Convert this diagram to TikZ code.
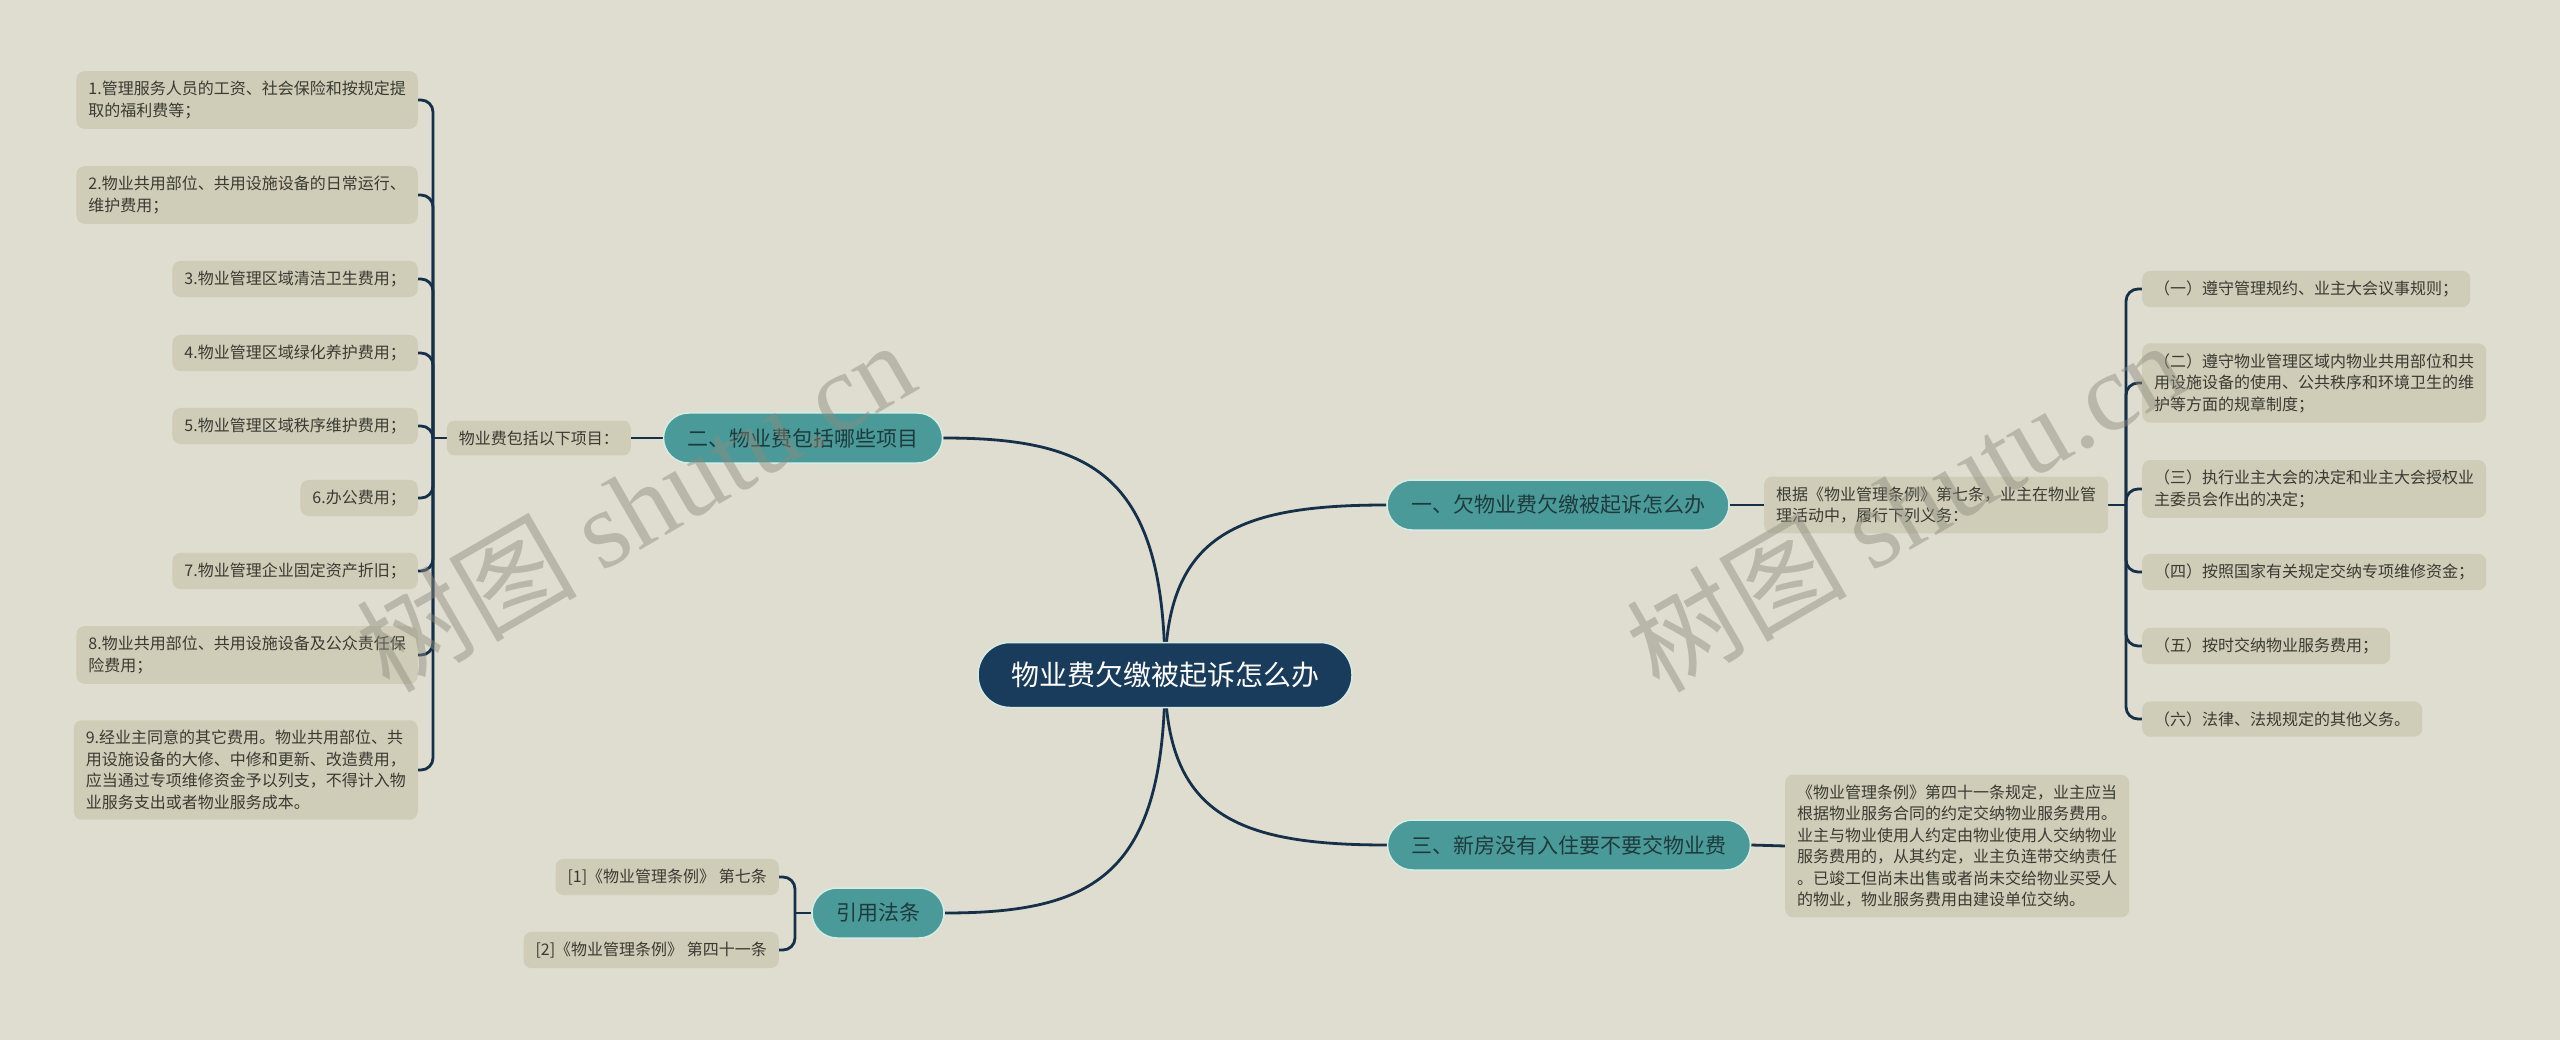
\documentclass[tikz,border=0pt]{standalone}
\usepackage{fontspec}
\setmainfont{Noto Sans CJK SC}
\newfontfamily\wmfont{Liberation Serif}
\usetikzlibrary{backgrounds}

\definecolor{paper}{HTML}{DFDDD0}
\definecolor{leaffill}{HTML}{CFCCB7}
\definecolor{leaftext}{HTML}{3A3A33}
\definecolor{branchteal}{HTML}{4B9A9A}
\definecolor{branchedge}{HTML}{D5ECE4}
\definecolor{branchtext}{HTML}{1E3A3C}
\definecolor{topicblue}{HTML}{1A3C5C}
\definecolor{linkblue}{HTML}{16304A}
\definecolor{wmgray}{HTML}{8C8A7C}

\begin{document}
\begin{tikzpicture}[x=1pt,y=-1pt,
 leaf/.style={fill=leaffill,rounded corners=8,inner xsep=12,inner ysep=10,
  text=leaftext,align=left,font=\fontsize{16}{21.5}\selectfont},
 branch/.style={fill=branchteal,draw=branchedge,line width=1.5,rounded corners=25,
  minimum height=50,inner xsep=24,text=branchtext,font=\fontsize{21}{25}\selectfont},
 topic/.style={fill=topicblue,draw=branchedge,line width=1.5,rounded corners=32,
  minimum height=65,inner xsep=33,text=white,font=\fontsize{28}{32}\selectfont},
 link/.style={draw=linkblue,line width=2.8},
 forkline/.style={rounded corners=12,to path={|- (\tikztotarget)}},
 watermark/.style={text=wmgray,opacity=0.45,font=\fontsize{110}{110}\selectfont}]

\node [topic] (wyf) at (1165,675) {物业费欠缴被起诉怎么办};

\node [branch] (bao) at (803,438) {二、物业费包括哪些项目};
\node [branch] (qian) at (1558,505) {一、欠物业费欠缴被起诉怎么办};
\node [branch] (xin) at (1569,845) {三、新房没有入住要不要交物业费};
\node [branch] (yin) at (878,913) {引用法条};

\begin{scope}[every node/.append style={leaf,anchor=east}]
 \node (baox) at (631,438) {物业费包括以下项目：};
 \node (bao1) at (418,100) {1.管理服务人员的工资、社会保险和按规定提\\取的福利费等；};
 \node (bao2) at (418,195) {2.物业共用部位、共用设施设备的日常运行、\\维护费用；};
 \node (bao3) at (418,279) {3.物业管理区域清洁卫生费用；};
 \node (bao4) at (418,353) {4.物业管理区域绿化养护费用；};
 \node (bao5) at (418,426) {5.物业管理区域秩序维护费用；};
 \node (bao6) at (418,498) {6.办公费用；};
 \node (bao7) at (418,571) {7.物业管理企业固定资产折旧；};
 \node (bao8) at (418,655) {8.物业共用部位、共用设施设备及公众责任保\\险费用；};
 \node (bao9) at (418,770) {9.经业主同意的其它费用。物业共用部位、共\\用设施设备的大修、中修和更新、改造费用，\\应当通过专项维修资金予以列支，不得计入物\\业服务支出或者物业服务成本。};
 \node (yin1) at (779,877) {[1]《物业管理条例》 第七条};
 \node (yin2) at (779,950) {[2]《物业管理条例》 第四十一条};
\end{scope}

\begin{scope}[every node/.append style={leaf,anchor=west}]
 \node (qianx) at (1764,505) {根据《物业管理条例》第七条，业主在物业管\\理活动中，履行下列义务：};
 \node (qian1) at (2142,289) {（一）遵守管理规约、业主大会议事规则；};
 \node (qian2) at (2142,383) {（二）遵守物业管理区域内物业共用部位和共\\用设施设备的使用、公共秩序和环境卫生的维\\护等方面的规章制度；};
 \node (qian3) at (2142,489) {（三）执行业主大会的决定和业主大会授权业\\主委员会作出的决定；};
 \node (qian4) at (2142,572) {（四）按照国家有关规定交纳专项维修资金；};
 \node (qian5) at (2142,646) {（五）按时交纳物业服务费用；};
 \node (qian6) at (2142,719) {（六）法律、法规规定的其他义务。};
 \node (xinx) at (1785,846) {《物业管理条例》第四十一条规定，业主应当\\根据物业服务合同的约定交纳物业服务费用。\\业主与物业使用人约定由物业使用人交纳物业\\服务费用的，从其约定，业主负连带交纳责任\\。已竣工但尚未出售或者尚未交给物业买受人\\的物业，物业服务费用由建设单位交纳。};
\end{scope}

\coordinate (jbao) at (433,438);
\coordinate (jqian) at (2126,505);
\coordinate (jyin) at (795,913);

\begin{pgfonlayer}{background}
 \fill [paper] (0,0) rectangle (2560,1040);
 \draw [link] (wyf.center) .. controls +(0,-200) and +(150,0) .. (bao.east);
 \draw [link] (wyf.center) .. controls +(0,-140) and +(-150,0) .. (qian.west);
 \draw [link] (wyf.center) .. controls +(0,140) and +(-150,0) .. (xin.west);
 \draw [link] (wyf.center) .. controls +(0,200) and +(150,0) .. (yin.east);
 \draw [link] (bao.west) -- (baox.east);
 \draw [link] (qian.east) -- (qianx.west);
 \draw [link] (xin.east) -- (xinx.west);
 \draw [link] (baox.west) -- (jbao);
 \draw [link] (qianx.east) -- (jqian);
 \draw [link] (yin.west) -- (jyin);
 \draw [link] (jbao) edge [forkline] (bao1.east) edge [forkline] (bao2.east)
  edge [forkline] (bao3.east) edge [forkline] (bao4.east) edge [forkline] (bao5.east)
  edge [forkline] (bao6.east) edge [forkline] (bao7.east) edge [forkline] (bao8.east)
  edge [forkline] (bao9.east);
 \draw [link] (jqian) edge [forkline] (qian1.west) edge [forkline] (qian2.west)
  edge [forkline] (qian3.west) edge [forkline] (qian4.west) edge [forkline] (qian5.west)
  edge [forkline] (qian6.west);
 \draw [link] (jyin) edge [forkline] (yin1.east) edge [forkline] (yin2.east);
\end{pgfonlayer}

\node [watermark,rotate=30] (wm1) at (635,505) {树图 {\wmfont shutu.cn}};
\node [watermark,rotate=30] (wm2) at (1905,505) {树图 {\wmfont shutu.cn}};

\end{tikzpicture}
\end{document}
